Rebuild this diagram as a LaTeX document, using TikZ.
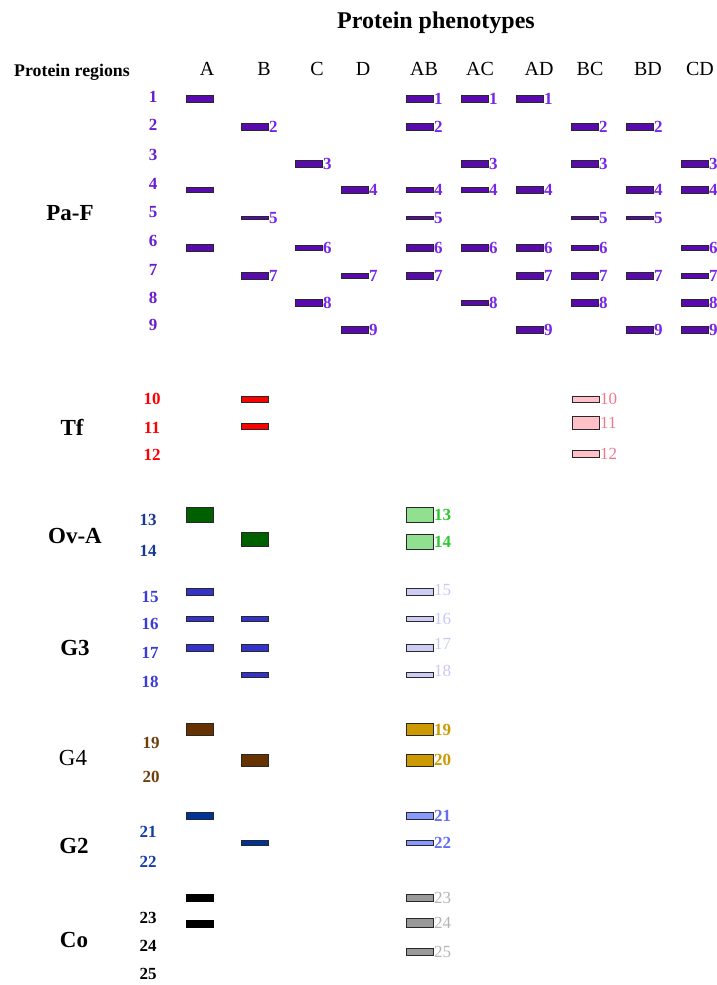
\documentclass[tikz,border=0pt]{standalone}
\usepackage{fontspec}
\setmainfont{Liberation Serif}

% fills and text colours of the bands
\definecolor{edgeC}{RGB}{40,40,40}
\definecolor{pfFill}{RGB}{88,10,172}
\definecolor{pfText}{RGB}{118,38,228}
\definecolor{pfNum}{RGB}{104,30,205}
\definecolor{tfFill}{RGB}{255,0,0}
\definecolor{tfNum}{RGB}{255,0,0}
\definecolor{tfLight}{RGB}{255,192,200}
\definecolor{tfLightText}{RGB}{240,120,140}
\definecolor{ovFill}{RGB}{0,96,0}
\definecolor{ovLight}{RGB}{144,224,144}
\definecolor{ovLightText}{RGB}{45,200,45}
\definecolor{ovNum}{RGB}{25,55,150}
\definecolor{gtFill}{RGB}{51,51,204}
\definecolor{gtNum}{RGB}{60,60,212}
\definecolor{gtLight}{RGB}{204,204,245}
\definecolor{gtLightText}{RGB}{200,200,242}
\definecolor{gfFill}{RGB}{102,51,0}
\definecolor{gfNum}{RGB}{110,62,12}
\definecolor{gfLight}{RGB}{204,153,0}
\definecolor{gfLightText}{RGB}{204,153,0}
\definecolor{gwFill}{RGB}{0,51,153}
\definecolor{gwNum}{RGB}{20,60,170}
\definecolor{gwLight}{RGB}{136,153,255}
\definecolor{gwLightText}{RGB}{100,110,240}
\definecolor{coFill}{RGB}{0,0,0}
\definecolor{coLight}{RGB}{153,153,153}
\definecolor{coLightText}{RGB}{180,180,180}

% a band with an optional number on its right
% [label options]{name}{left x, centre y}{height}{kind}{number}
\newcommand\band[6][]{%
  \node[bandbox,#5 box,minimum height=#4pt] (#2) at (#3) {};
  \if\relax\detokenize{#6}\relax\else
    \node[#5 lab,#1] (#2-n) at (#2.east) {#6};
  \fi}

\begin{document}
\begin{tikzpicture}[x=1pt,y=-1pt,
  bandbox/.style={rectangle,anchor=west,minimum width=26.5pt,inner sep=0pt,
    draw=edgeC,line width=1pt},
  numfont/.style={font=\fontsize{17}{20}\selectfont\bfseries},
  numfontr/.style={font=\fontsize{17}{20}\selectfont},
  lab/.style={anchor=west,inner sep=0.5pt},
  rownum/.style={numfont,inner sep=0pt},
  grp/.style={anchor=base,inner sep=0pt,font=\fontsize{23}{26}\selectfont\bfseries},
  head/.style={anchor=base,inner sep=0pt,font=\fontsize{20}{24}\selectfont},
  pf box/.style={fill=pfFill},       pf lab/.style={lab,numfont,text=pfText},
  tf box/.style={fill=tfFill},
  tfl box/.style={fill=tfLight},     tfl lab/.style={lab,numfontr,text=tfLightText},
  ov box/.style={fill=ovFill},
  ovl box/.style={fill=ovLight},     ovl lab/.style={lab,numfont,text=ovLightText},
  gt box/.style={fill=gtFill},
  gtl box/.style={fill=gtLight},     gtl lab/.style={lab,numfontr,text=gtLightText},
  gf box/.style={fill=gfFill},
  gfl box/.style={fill=gfLight},     gfl lab/.style={lab,numfont,text=gfLightText},
  gw box/.style={fill=gwFill},
  gwl box/.style={fill=gwLight},     gwl lab/.style={lab,numfont,text=gwLightText},
  co box/.style={fill=coFill,draw=black},
  col box/.style={fill=coLight},     col lab/.style={lab,numfontr,text=coLightText},
]
\useasboundingbox (0,0) rectangle (717,985);

% column left edges
\def\cA{186}\def\cB{241}\def\cC{295}\def\cD{341}
\def\cAB{406}\def\cAC{461}\def\cAD{516}\def\cBC{571}\def\cBD{626}\def\cCD{681}
% band heights
\def\T{7.2}\def\M{4.2}\def\S{2.6}

% headings
\node[anchor=base,inner sep=0pt,font=\fontsize{24}{28}\selectfont\bfseries] (title) at (436,28) {Protein phenotypes};
\node[anchor=base,inner sep=0pt,font=\fontsize{17.8}{20}\selectfont\bfseries] (regions) at (72,76) {Protein regions};
\foreach \h/\x in {A/207,B/264,C/317,D/363,AB/424,AC/480,AD/539,BC/590,BD/648,CD/700}
  \node[head] (h-\h) at (\x,75) {\h};

% group names
\node[grp] (g-paf) at (70,220) {Pa-F};
\node[grp] (g-tf)  at (72,435) {Tf};
\node[grp] (g-ova) at (75,543) {Ov-A};
\node[grp] (g-g3)  at (75,655) {G3};
\node[grp,font=\fontsize{23}{26}\selectfont] (g-g4) at (73,765) {G4};
\node[grp] (g-g2)  at (74,853) {G2};
\node[grp] (g-co)  at (74,947) {Co};

% region numbers
\foreach \n/\y in {1/97,2/125,3/155,4/184,5/212,6/241,7/270,8/298,9/325}
  \node[rownum,text=pfNum] (r\n) at (153,\y) {\n};
\foreach \n/\y in {10/399,11/428,12/455}
  \node[rownum,text=tfNum] (r\n) at (152,\y) {\n};
\foreach \n/\y in {13/520,14/551}
  \node[rownum,text=ovNum] (r\n) at (148,\y) {\n};
\foreach \n/\y in {15/597,16/624,17/653,18/682}
  \node[rownum,text=gtNum] (r\n) at (150,\y) {\n};
\foreach \n/\y in {19/743,20/777}
  \node[rownum,text=gfNum] (r\n) at (151,\y) {\n};
\foreach \n/\y in {21/832,22/862}
  \node[rownum,text=gwNum] (r\n) at (148,\y) {\n};
\foreach \n/\y in {23/918,24/946,25/974}
  \node[rownum,text=black] (r\n) at (148,\y) {\n};

% Pa-F bands
\band{a1}{\cA,99}{\T}{pf}{}
\band{a4}{\cA,190}{\M}{pf}{}
\band{a6}{\cA,248}{\T}{pf}{}
\band{b2}{\cB,127}{\T}{pf}{2}
\band{b5}{\cB,218}{\S}{pf}{5}
\band{b7}{\cB,276}{\T}{pf}{7}
\band{c3}{\cC,164}{\T}{pf}{3}
\band{c6}{\cC,248}{\M}{pf}{6}
\band{c8}{\cC,303}{\T}{pf}{8}
\band{d4}{\cD,190}{\T}{pf}{4}
\band{d7}{\cD,276}{\M}{pf}{7}
\band{d9}{\cD,330}{\T}{pf}{9}
\band{ab1}{\cAB,99}{\T}{pf}{1}
\band{ab2}{\cAB,127}{\T}{pf}{2}
\band{ab4}{\cAB,190}{\M}{pf}{4}
\band{ab5}{\cAB,218}{\S}{pf}{5}
\band{ab6}{\cAB,248}{\T}{pf}{6}
\band{ab7}{\cAB,276}{\T}{pf}{7}
\band{ac1}{\cAC,99}{\T}{pf}{1}
\band{ac3}{\cAC,164}{\T}{pf}{3}
\band{ac4}{\cAC,190}{\M}{pf}{4}
\band{ac6}{\cAC,248}{\T}{pf}{6}
\band{ac8}{\cAC,303}{5.4}{pf}{8}
\band{ad1}{\cAD,99}{\T}{pf}{1}
\band{ad4}{\cAD,190}{\T}{pf}{4}
\band{ad6}{\cAD,248}{\T}{pf}{6}
\band{ad7}{\cAD,276}{\T}{pf}{7}
\band{ad9}{\cAD,330}{\T}{pf}{9}
\band{bc2}{\cBC,127}{\T}{pf}{2}
\band{bc3}{\cBC,164}{\T}{pf}{3}
\band{bc5}{\cBC,218}{\S}{pf}{5}
\band{bc6}{\cBC,248}{\M}{pf}{6}
\band{bc7}{\cBC,276}{\T}{pf}{7}
\band{bc8}{\cBC,303}{\T}{pf}{8}
\band{bd2}{\cBD,127}{\T}{pf}{2}
\band{bd4}{\cBD,190}{\T}{pf}{4}
\band{bd5}{\cBD,218}{\S}{pf}{5}
\band{bd7}{\cBD,276}{\T}{pf}{7}
\band{bd9}{\cBD,330}{\T}{pf}{9}
\band{cd3}{\cCD,164}{\T}{pf}{3}
\band{cd4}{\cCD,190}{\T}{pf}{4}
\band{cd6}{\cCD,248}{\M}{pf}{6}
\band{cd7}{\cCD,276}{\M}{pf}{7}
\band{cd8}{\cCD,303}{\T}{pf}{8}
\band{cd9}{\cCD,330}{\T}{pf}{9}

% Tf bands
\band{b10}{\cB,399.5}{5.6}{tf}{}
\band{b11}{\cB,426.5}{6.2}{tf}{}
\band{bc10}{572,399}{6}{tfl}{10}
\band{bc11}{572,423}{13}{tfl}{11}
\band{bc12}{572,454}{7}{tfl}{12}

% Ov-A bands
\band{a13}{\cA,515}{15}{ov}{}
\band{b14}{\cB,539.5}{14.6}{ov}{}
\band{ab13}{\cAB,515}{15}{ovl}{13}
\band{ab14}{\cAB,542}{15}{ovl}{14}

% G3 bands
\band{a15}{\cA,592}{6.2}{gt}{}
\band{a16}{\cA,619}{5.2}{gt}{}
\band{a17}{\cA,648}{6.2}{gt}{}
\band{b16}{\cB,619}{5.2}{gt}{}
\band{b17}{\cB,648}{6.2}{gt}{}
\band{b18}{\cB,675}{5.2}{gt}{}
\band[yshift=2pt]{ab15}{\cAB,592}{6.2}{gtl}{15}
\band{ab16}{\cAB,619}{5.2}{gtl}{16}
\band[yshift=4pt]{ab17}{\cAB,648}{6.2}{gtl}{17}
\band[yshift=4pt]{ab18}{\cAB,675}{5.2}{gtl}{18}

% G4 bands
\band{a19}{\cA,729.5}{12}{gf}{}
\band{b20}{\cB,760}{12}{gf}{}
\band{ab19}{\cAB,729.5}{12}{gfl}{19}
\band{ab20}{\cAB,760}{12}{gfl}{20}

% G2 bands
\band{a21}{\cA,816}{6.2}{gw}{}
\band{b22}{\cB,843}{5.2}{gw}{}
\band{ab21}{\cAB,816}{6.2}{gwl}{21}
\band{ab22}{\cAB,843}{5.2}{gwl}{22}

% Co bands
\band{a23}{\cA,898}{7.2}{co}{}
\band{a24}{\cA,924}{7.2}{co}{}
\band{ab23}{\cAB,898}{7.2}{col}{23}
\band{ab24}{\cAB,923}{9.2}{col}{24}
\band{ab25}{\cAB,952}{6.2}{col}{25}
\end{tikzpicture}
\end{document}
